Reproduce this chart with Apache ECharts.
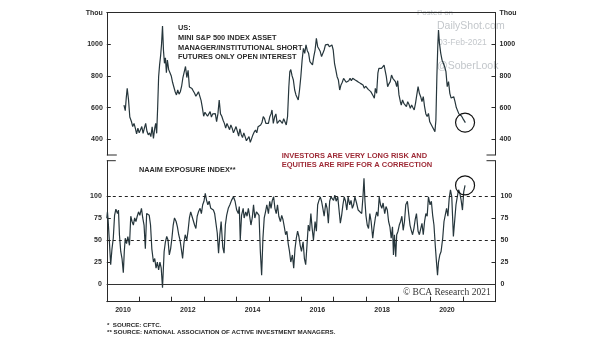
<!DOCTYPE html>
<html><head><meta charset="utf-8">
<script src="https://cdn.jsdelivr.net/npm/echarts@6/dist/echarts.min.js"></script>
<style>html,body{margin:0;padding:0;background:#fff}#c{width:605px;height:341px}</style>
</head><body><div id="c"></div>
<script>
// ---- data ----
const topYears = [2010.53,2010.57,2010.60,2010.63,2010.67,2010.71,2010.76,2010.80,2010.84,2010.88,2010.92,2010.96,2011.00,2011.04,2011.08,2011.12,2011.16,2011.20,2011.24,2011.28,2011.32,2011.36,2011.40,2011.44,2011.48,2011.51,2011.54,2011.57,2011.60,2011.63,2011.66,2011.69,2011.72,2011.75,2011.78,2011.81,2011.84,2011.87,2011.91,2011.95,2011.99,2012.03,2012.07,2012.11,2012.15,2012.19,2012.23,2012.27,2012.31,2012.35,2012.39,2012.43,2012.47,2012.51,2012.55,2012.59,2012.63,2012.67,2012.71,2012.75,2012.79,2012.83,2012.87,2012.91,2012.95,2012.99,2013.03,2013.07,2013.11,2013.15,2013.19,2013.23,2013.27,2013.31,2013.35,2013.39,2013.43,2013.47,2013.51,2013.55,2013.59,2013.63,2013.67,2013.71,2013.75,2013.79,2013.83,2013.87,2013.91,2013.95,2013.99,2014.03,2014.07,2014.11,2014.15,2014.19,2014.23,2014.27,2014.31,2014.35,2014.39,2014.43,2014.47,2014.51,2014.55,2014.59,2014.63,2014.67,2014.71,2014.75,2014.79,2014.83,2014.87,2014.91,2014.95,2014.99,2015.03,2015.07,2015.10,2015.14,2015.18,2015.22,2015.26,2015.30,2015.34,2015.38,2015.42,2015.46,2015.50,2015.54,2015.58,2015.62,2015.65,2015.68,2015.72,2015.76,2015.80,2015.84,2015.88,2015.91,2015.95,2015.99,2016.03,2016.07,2016.11,2016.15,2016.19,2016.23,2016.27,2016.31,2016.35,2016.39,2016.43,2016.47,2016.51,2016.55,2016.59,2016.63,2016.67,2016.71,2016.75,2016.79,2016.83,2016.87,2016.91,2016.95,2016.99,2017.03,2017.07,2017.11,2017.15,2017.19,2017.23,2017.27,2017.31,2017.35,2017.39,2017.43,2017.47,2017.51,2017.55,2017.59,2017.63,2017.67,2017.71,2017.75,2017.79,2017.83,2017.87,2017.91,2017.95,2017.99,2018.03,2018.07,2018.11,2018.15,2018.19,2018.23,2018.26,2018.29,2018.33,2018.37,2018.40,2018.44,2018.48,2018.52,2018.56,2018.60,2018.63,2018.67,2018.71,2018.75,2018.79,2018.83,2018.87,2018.91,2018.95,2018.98,2019.02,2019.06,2019.09,2019.13,2019.17,2019.21,2019.25,2019.29,2019.33,2019.37,2019.41,2019.45,2019.49,2019.53,2019.57,2019.61,2019.65,2019.69,2019.73,2019.77,2019.81,2019.85,2019.89,2019.93,2019.97,2020.01,2020.05,2020.09,2020.13,2020.16,2020.19,2020.22,2020.24,2020.27,2020.31,2020.35,2020.39,2020.43,2020.47,2020.51,2020.55,2020.59,2020.63,2020.67,2020.71,2020.75,2020.79,2020.83,2020.87,2020.91,2020.95,2020.99,2021.03,2021.07];
const topValues = [616,580,660,722,650,540,512,480,500,470,433,470,440,460,480,437,470,500,450,427,440,416,478,405,470,500,437,600,795,870,925,1000,1116,960,880,915,820,900,840,820,800,760,730,700,680,711,685,700,735,790,800,860,790,835,730,722,720,705,690,672,685,700,690,645,600,545,570,575,545,560,574,540,560,550,562,511,560,648,560,545,520,500,470,500,480,460,490,470,440,437,480,490,420,465,430,410,440,416,390,400,416,380,378,427,445,458,440,479,470,490,505,543,530,500,490,500,540,560,585,500,540,560,500,495,520,510,500,530,540,490,543,732,827,840,800,774,711,680,669,648,711,795,900,975,943,996,960,943,890,880,870,922,964,1038,985,970,954,922,930,964,996,1006,1000,985,990,996,964,880,838,795,774,711,743,760,785,774,760,753,770,785,770,785,775,774,768,764,755,753,745,743,722,735,743,715,708,701,690,672,659,722,690,820,848,859,848,855,869,859,795,732,750,764,806,785,775,764,732,770,680,640,616,648,627,620,606,637,620,595,616,600,585,627,680,732,690,669,637,669,606,560,543,563,510,500,479,490,448,521,795,1000,1091,1006,943,900,880,859,827,732,764,690,660,648,669,637,600,606,560,553,547,532,543,505];

const naaimYears = [2010.00,2010.02,2010.04,2010.08,2010.12,2010.16,2010.20,2010.24,2010.28,2010.33,2010.36,2010.39,2010.43,2010.47,2010.51,2010.54,2010.57,2010.61,2010.65,2010.70,2010.74,2010.78,2010.82,2010.86,2010.90,2010.94,2010.98,2011.02,2011.07,2011.11,2011.15,2011.19,2011.23,2011.27,2011.31,2011.35,2011.39,2011.44,2011.48,2011.52,2011.56,2011.60,2011.64,2011.68,2011.72,2011.77,2011.81,2011.85,2011.89,2011.93,2011.97,2012.01,2012.05,2012.09,2012.14,2012.18,2012.22,2012.26,2012.30,2012.34,2012.38,2012.42,2012.47,2012.51,2012.55,2012.59,2012.63,2012.67,2012.71,2012.75,2012.79,2012.83,2012.88,2012.92,2012.96,2013.00,2013.04,2013.08,2013.12,2013.16,2013.21,2013.25,2013.29,2013.33,2013.37,2013.41,2013.45,2013.49,2013.53,2013.58,2013.62,2013.66,2013.70,2013.75,2013.80,2013.85,2013.91,2013.96,2014.01,2014.06,2014.09,2014.12,2014.16,2014.21,2014.24,2014.29,2014.33,2014.37,2014.41,2014.45,2014.49,2014.53,2014.57,2014.62,2014.66,2014.70,2014.74,2014.78,2014.82,2014.86,2014.90,2014.94,2014.99,2015.03,2015.07,2015.11,2015.15,2015.19,2015.23,2015.27,2015.31,2015.36,2015.40,2015.44,2015.48,2015.52,2015.56,2015.60,2015.64,2015.68,2015.73,2015.77,2015.81,2015.85,2015.89,2015.93,2015.97,2016.01,2016.06,2016.10,2016.14,2016.18,2016.22,2016.26,2016.30,2016.34,2016.38,2016.43,2016.47,2016.51,2016.55,2016.59,2016.63,2016.67,2016.71,2016.76,2016.80,2016.84,2016.88,2016.92,2016.96,2017.00,2017.04,2017.08,2017.13,2017.17,2017.21,2017.25,2017.29,2017.33,2017.37,2017.41,2017.45,2017.50,2017.54,2017.58,2017.62,2017.66,2017.71,2017.76,2017.81,2017.87,2017.91,2017.94,2017.97,2018.00,2018.04,2018.08,2018.12,2018.16,2018.21,2018.25,2018.29,2018.33,2018.37,2018.41,2018.45,2018.49,2018.53,2018.58,2018.62,2018.66,2018.70,2018.74,2018.78,2018.82,2018.85,2018.88,2018.92,2018.95,2018.99,2019.03,2019.07,2019.11,2019.15,2019.19,2019.23,2019.28,2019.32,2019.36,2019.40,2019.44,2019.48,2019.52,2019.56,2019.61,2019.65,2019.69,2019.73,2019.77,2019.81,2019.85,2019.89,2019.93,2019.98,2020.02,2020.06,2020.10,2020.14,2020.18,2020.21,2020.24,2020.28,2020.32,2020.37,2020.41,2020.45,2020.49,2020.53,2020.57,2020.61,2020.65,2020.70,2020.74,2020.78,2020.82,2020.86,2020.90,2020.94,2020.98,2021.02,2021.06];
const naaimValues = [75,82,73,48,22,40,52,78,85,80,84,56,37,29,13,37,52,46,54,44,77,71,67,75,71,77,82,78,86,75,67,40,80,82,78,67,40,25,29,18,25,16,25,18,-4,37,48,54,50,33,40,52,67,75,71,65,56,50,40,29,46,56,50,61,75,82,77,78,67,63,77,82,86,80,90,94,103,95,90,94,86,88,84,80,78,58,35,56,71,42,35,67,78,86,90,95,99,94,84,80,88,50,78,86,75,82,77,86,77,67,75,90,75,82,80,78,37,10,52,75,82,90,80,94,86,95,99,86,80,90,77,71,78,73,65,56,60,46,37,25,33,18,40,52,60,54,44,37,48,29,22,44,67,60,80,63,50,71,60,90,95,99,94,86,77,92,86,69,94,99,101,95,101,94,99,84,69,78,90,99,94,84,99,90,95,86,90,99,92,84,82,80,100,120,94,78,67,63,80,71,52,65,75,82,77,99,90,86,92,80,88,84,71,65,52,65,33,56,31,56,60,67,71,77,61,71,90,94,80,67,61,56,63,73,80,60,56,58,69,56,71,80,77,99,90,94,78,67,44,24,10,25,33,37,52,71,73,86,77,97,107,99,54,56,90,99,107,103,95,84,105,112];

const xTickLabels = ['2010','2012','2014','2016','2018','2020'];
const topTickLabels = [400, 600, 800, 1000];
const naaimTickLabels = [0, 25, 50, 75, 100];
const naaimRefLevels = [50, 100];

// ---- layout ----
const L = 106.8, R = 605 - 495.5;
const T1 = 12.7, H1 = 142.3;
const T2 = 160.7, H2 = 141;
const INK = '#2a2a2a';
const LINE = '#26363c';
const FONT = 'Liberation Sans';

const zip = (a, b) => a.map((v, i) => [v, b[i]]);
const lab = { fontFamily: FONT, fontWeight: 'bold', fontSize: 7, color: INK };

const topLabelVals = topTickLabels.concat([1200]);
function yAxisTop(pos) {
  return {
    gridIndex: 0, type: 'value', position: pos, min: 300, max: 1200,
    axisLine: { show: true, lineStyle: { color: INK, width: 1 } },
    axisTick: { show: true, inside: true, length: 4, customValues: topTickLabels, lineStyle: { color: INK } },
    axisLabel: Object.assign({ margin: 4, customValues: topLabelVals, formatter: v => v === 1200 ? 'Thou' : String(v) }, lab),
    splitLine: { show: false }
  };
}
function yAxisBot(pos) {
  return {
    gridIndex: 1, type: 'value', position: pos, min: -20, max: 140,
    axisLine: { show: true, lineStyle: { color: INK, width: 1 } },
    axisTick: { show: true, inside: true, length: 4, customValues: naaimTickLabels, lineStyle: { color: INK } },
    axisLabel: Object.assign({ margin: 5, customValues: naaimTickLabels }, lab),
    splitLine: { show: false }
  };
}

const tickYears = [];
for (let y = 2011; y <= 2021; y++) tickYears.push(y);

const chart = echarts.init(document.getElementById('c'), null, { renderer: 'canvas' });

const stub = (x1, y1, x2, y2) => ({ type: 'line', shape: { x1, y1, x2, y2 }, style: { stroke: INK, lineWidth: 1 }, silent: true });
const txt = (x, y, text, opt) => ({ type: 'text', x, y, silent: true, style: Object.assign({ text, fontFamily: FONT, fontWeight: 'bold', fontSize: 7.4, fill: INK, verticalAlign: 'middle' }, opt || {}) });
const wm = (x, y, text, size) => ({ type: 'text', x, y, silent: true, z: -1, style: { text, fontFamily: 'Liberation Sans', fontSize: size, fill: '#c3c7cb', verticalAlign: 'middle' } });

chart.setOption({
  animation: false,
  backgroundColor: '#fff',
  grid: [
    { left: L, right: R, top: T1, height: H1, outerBoundsMode: 'none', containLabel: false },
    { left: L, right: R, top: T2, height: H2, outerBoundsMode: 'none', containLabel: false }
  ],
  xAxis: [
    { gridIndex: 0, type: 'value', position: 'top', min: 2010, max: 2022,
      axisLine: { show: true, onZero: false, lineStyle: { color: INK, width: 1 } },
      axisTick: { show: false }, axisLabel: { show: false }, splitLine: { show: false } },
    { gridIndex: 1, type: 'value', position: 'bottom', min: 2010, max: 2022,
      axisLine: { show: true, onZero: false, lineStyle: { color: INK, width: 1 } },
      axisTick: { show: true, inside: true, length: 5, customValues: tickYears, lineStyle: { color: INK } },
      axisLabel: Object.assign({ margin: 5, customValues: xTickLabels.map(s => Number(s) + 0.5),
        formatter: v => xTickLabels.find(s => Number(s) + 0.5 === v) || '' }, lab),
      splitLine: { show: false } }
  ],
  yAxis: [yAxisTop('left'), yAxisTop('right'), yAxisBot('left'), yAxisBot('right')],
  series: [
    { type: 'line', xAxisIndex: 0, yAxisIndex: 0, data: zip(topYears, topValues), showSymbol: false,
      lineStyle: { color: LINE, width: 1.2 }, z: 3,
      markPoint: { silent: true, symbol: 'circle', symbolSize: 19, label: { show: false },
        itemStyle: { color: 'rgba(0,0,0,0)', borderColor: '#111', borderWidth: 1.2 },
        data: [{ coord: [topYears[topYears.length - 1] - 0.01, topValues[topValues.length - 1]] }] } },
    { type: 'line', xAxisIndex: 1, yAxisIndex: 2, data: zip(naaimYears, naaimValues), showSymbol: false,
      lineStyle: { color: LINE, width: 1.2 }, z: 3,
      markLine: { silent: true, symbol: 'none', label: { show: false },
        data: naaimRefLevels.map(v => ({ yAxis: v, lineStyle: { type: [3, 3], color: '#222', width: 1 } }))
          .concat([{ yAxis: 0, lineStyle: { type: 'solid', color: '#333', width: 1 } }]) },
      markPoint: { silent: true, symbol: 'circle', symbolSize: 19, label: { show: false },
        itemStyle: { color: 'rgba(0,0,0,0)', borderColor: '#111', borderWidth: 1.2 },
        data: [{ coord: [naaimYears[naaimYears.length - 1], naaimValues[naaimValues.length - 1]] }] } }
  ],
  graphic: [
    // frame stubs
    stub(L, T1 + H1, L + 10, T1 + H1),
    stub(605 - R - 9, T1 + H1, 605 - R, T1 + H1),
    stub(L, T2, L + 9, T2),
    stub(605 - R - 9, T2, 605 - R, T2),
    // watermark
    wm(417, 12.5, 'Posted on', 8),
    wm(437, 26.5, 'DailyShot.com', 10.5),
    wm(438, 43, '03-Feb-2021', 8.5),
    wm(437, 66, '@SoberLook', 10.5),
    // annotations
    txt(178, 23.4, 'US:\nMINI S&P 500 INDEX ASSET\nMANAGER/INSTITUTIONAL SHORT\nFUTURES ONLY OPEN INTEREST', { verticalAlign: 'top', lineHeight: 9.7 }),
    txt(139, 170, 'NAAIM EXPOSURE INDEX**', { fontSize: 7.3 }),
    txt(281.7, 151, 'INVESTORS ARE VERY LONG RISK AND\nEQUITIES ARE RIPE FOR A CORRECTION', { verticalAlign: 'top', lineHeight: 9.4, fontSize: 7.5, fill: '#9e2a36' }),
    { type: 'text', x: 403, y: 292, silent: true, style: { text: '© BCA Research 2021', fontFamily: 'Liberation Serif', fontSize: 9.5, fill: '#333', verticalAlign: 'middle' } },
    txt(107, 325, '*  SOURCE: CFTC.', { fontSize: 6.2 }),
    txt(107, 332, '** SOURCE: NATIONAL ASSOCIATION OF ACTIVE INVESTMENT MANAGERS.', { fontSize: 6.2 })
  ]
});
</script></body></html>
